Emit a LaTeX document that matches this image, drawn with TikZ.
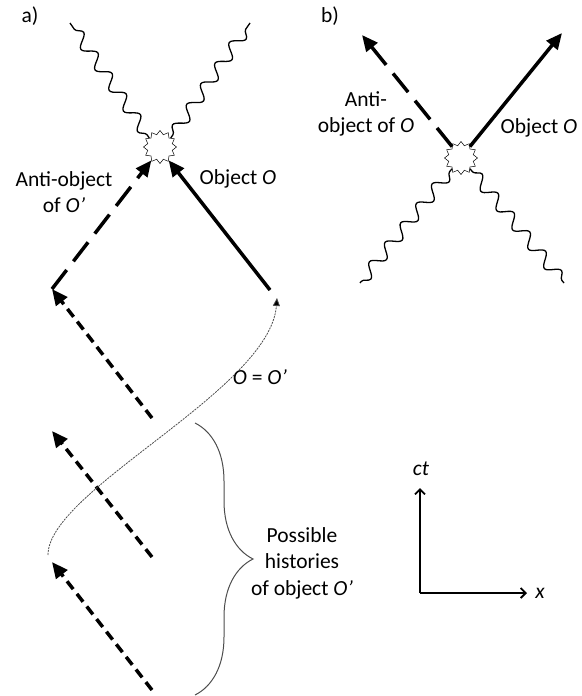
\documentclass[tikz,border=0pt]{standalone}
\usepackage{fontspec}
\setmainfont{Carlito}
\usepackage{tikz}
\usetikzlibrary{shapes.geometric, arrows.meta, positioning, calc, decorations.pathmorphing, decorations.pathreplacing}

\begin{document}
\begin{tikzpicture}[x=1pt, y=-1pt,
        txt/.style={align=center, inner sep=0pt, font=\fontsize{21.5}{26.5}\selectfont},
        burst/.style={star, star points=12, star point ratio=1.3, minimum size=33pt, inner sep=0pt, draw=black, fill=white, line width=0.5pt},
        wave/.style={draw=black, line width=1.3pt, decorate, decoration={snake, segment length=25pt, amplitude=6pt, pre length=4pt, post length=2pt}},
        objline/.style={draw=black, line width=3.5pt, -{Triangle[length=16pt, width=14pt]}},
        antiline/.style={objline, dash pattern=on 24pt off 11pt},
        histline/.style={objline, dash pattern=on 10pt off 6pt},
        worldline/.style={draw=black!70, line width=0.8pt, dash pattern=on 2pt off 1pt, -{Triangle[length=8pt, width=7pt, fill=black]}},
        axis/.style={draw=black, line width=1.8pt, -{Straight Barb[length=5pt, width=10pt]}}
    ]
        \useasboundingbox (0,0) rectangle (581,696);

        % Panel a: annihilation at the top
        \node [txt] (labA) at (30,16) {a)};
        \node [burst] (burstA) at (160,147) {};
        \coordinate (waveAL) at (70,23);
        \coordinate (waveAR) at (250,23);
        \draw [wave] (burstA.140) -- (waveAL);
        \draw [wave] (burstA.40) -- (waveAR);

        \coordinate (objTail) at (270,290);
        \coordinate (antiTail) at (52,289);
        \draw [objline] (objTail) -- (burstA.-57);
        \draw [antiline] (antiTail) -- (burstA.-123);
        \node [txt] (antiLab) at (64,192) {Anti-object\\of \textit{O’}};
        \node [txt] (objLab) at (238,179) {Object \textit{O}};

        % possible histories of O'
        \coordinate (histS1) at (152,418);
        \coordinate (histS2) at (152,557);
        \coordinate (histE2) at (52,431);
        \coordinate (histS3) at (152,690);
        \coordinate (histE3) at (52,562);
        \draw [histline] (histS1) -- (antiTail);
        \draw [histline] (histS2) -- (histE2);
        \draw [histline] (histS3) -- (histE3);

        \coordinate (wlStart) at (48,555);
        \coordinate (wlEnd) at (277,298);
        \draw [worldline] (wlStart) .. controls (48,490) and (270,390) .. (wlEnd);
        \node [txt] (eqLab) at (260,377) {\textit{O} = \textit{O’}};

        \coordinate (braceTop) at (195,423);
        \coordinate (braceBot) at (195,695);
        \draw [draw=black!70, line width=1pt, decorate, decoration={brace, amplitude=58pt}] (braceTop) -- (braceBot);
        \node [txt] (histLab) at (302,563) {Possible\\histories\\of object \textit{O’}};

        % Panel b: pair creation at the bottom
        \node [txt] (labB) at (330,16) {b)};
        \node [burst] (burstB) at (461,158) {};
        \coordinate (waveBL) at (360,283);
        \coordinate (waveBR) at (564,283);
        \draw [wave] (burstB.-130) -- (waveBL);
        \draw [wave] (burstB.-50) -- (waveBR);
        \coordinate (antiHead) at (362,35);
        \coordinate (objHead) at (562,33);
        \draw [antiline] (burstB.128) -- (antiHead);
        \draw [objline] (burstB.52) -- (objHead);
        \node [txt] (antiLabB) at (366,114) {Anti-\\object of \textit{O}};
        \node [txt] (objLabB) at (539,128) {Object \textit{O}};

        % axes
        \coordinate (orig) at (420,593);
        \coordinate (ctEnd) at (420,488);
        \coordinate (xEnd) at (527,593);
        \draw [axis] (orig) -- (ctEnd);
        \draw [axis] (orig) -- (xEnd);
        \node [txt] (ctLab) at (421,469) {\textit{ct}};
        \node [txt] (xLab) at (540,593) {\textit{x}};
    \end{tikzpicture}
\end{document}
